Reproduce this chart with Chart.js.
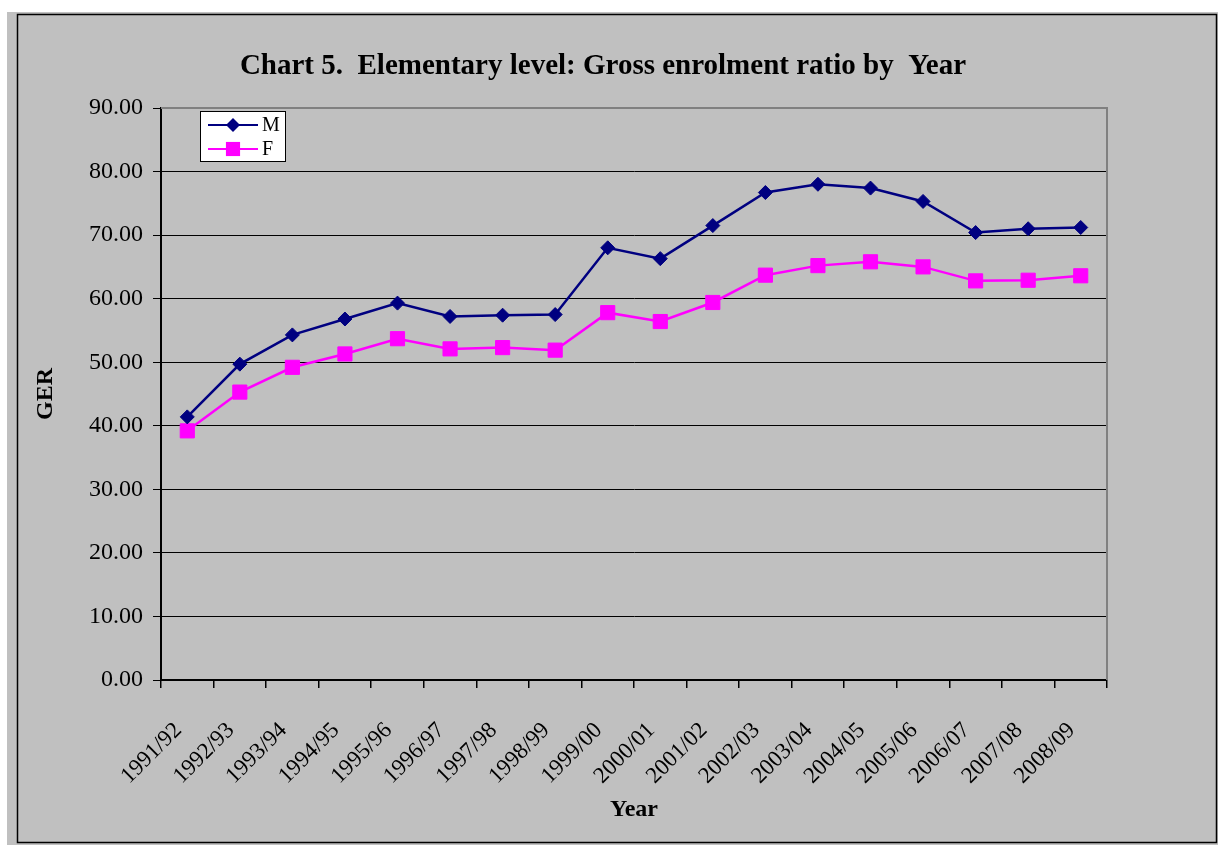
<!DOCTYPE html>
<html>
<head>
<meta charset="utf-8">
<title>Chart 5. Elementary level: Gross enrolment ratio by Year</title>
<script src="https://cdn.jsdelivr.net/npm/chart.js@4.4.0/dist/chart.umd.min.js"></script>
<style>
  html, body { margin: 0; padding: 0; background: #ffffff; }
  canvas { display: block; }
</style>
</head>
<body>
<canvas id="gerChart" width="1218" height="845"></canvas>
<script>
// Data
const years = ['1991/92', '1992/93', '1993/94', '1994/95', '1995/96', '1996/97', '1997/98', '1998/99', '1999/00',
  '2000/01', '2001/02', '2002/03', '2003/04', '2004/05', '2005/06', '2006/07', '2007/08', '2008/09'];
const gerMale = [41.4, 49.7, 54.3, 56.8, 59.3, 57.2, 57.4, 57.5, 68.0, 66.3, 71.5, 76.7, 78.0, 77.4, 75.3, 70.4, 71.0, 71.2];
const gerFemale = [39.2, 45.3, 49.2, 51.3, 53.7, 52.1, 52.3, 51.9, 57.8, 56.4, 59.4, 63.7, 65.2, 65.8, 65.0, 62.8, 62.9, 63.6];
const yTicks = { min: 0, max: 90, step: 10 };

const serif = '"Liberation Serif", "Times New Roman", serif';
const navy = '#000080';
const magenta = '#ff00ff';

// Fundo cinza com moldura, título e borda cinza da área do gráfico
const frame = {
  id: 'frame',
  beforeDraw(chart) {
    const { ctx } = chart;
    ctx.save();
    ctx.fillStyle = '#ffffff';
    ctx.fillRect(0, 0, chart.width, chart.height);
    ctx.fillStyle = '#c0c0c0';
    ctx.fillRect(7, 12, chart.width - 7, chart.height - 12);
    ctx.strokeStyle = '#000000';
    ctx.lineWidth = 1.5;
    ctx.strokeRect(17.5, 14.5, chart.width - 19, chart.height - 17);

    ctx.fillStyle = '#000000';
    ctx.font = 'bold 29px ' + serif;
    ctx.textAlign = 'center';
    ctx.textBaseline = 'middle';
    ctx.fillText('Chart 5.  Elementary level: Gross enrolment ratio by  Year', 603, 67);
    ctx.restore();
  },
  beforeDatasetsDraw(chart) {
    const { ctx, chartArea: a } = chart;
    ctx.save();
    ctx.strokeStyle = '#808080';
    ctx.lineWidth = 2;
    ctx.beginPath();
    ctx.moveTo(a.left, a.top);
    ctx.lineTo(a.right, a.top);
    ctx.lineTo(a.right, a.bottom);
    ctx.stroke();
    ctx.restore();
  }
};

// Legenda em caixa branca, dentro da área do gráfico
const boxLegend = {
  id: 'boxLegend',
  afterDatasetsDraw(chart) {
    const { ctx, chartArea: a } = chart;
    const x = a.left + 39, y = a.top + 3;
    ctx.save();
    ctx.fillStyle = '#ffffff';
    ctx.fillRect(x, y, 85, 50);
    ctx.strokeStyle = '#000000';
    ctx.lineWidth = 1;
    ctx.strokeRect(x + 0.5, y + 0.5, 85, 50);

    chart.data.datasets.forEach((ds, i) => {
      const cy = y + 14 + i * 24;
      const mx = x + 33;
      ctx.strokeStyle = ds.borderColor;
      ctx.lineWidth = 2;
      ctx.beginPath();
      ctx.moveTo(x + 8, cy);
      ctx.lineTo(x + 58, cy);
      ctx.stroke();

      ctx.fillStyle = ds.pointBackgroundColor;
      ctx.beginPath();
      if (ds.pointStyle === 'rectRot') {
        const r = ds.pointRadius;
        ctx.moveTo(mx, cy - r);
        ctx.lineTo(mx + r, cy);
        ctx.lineTo(mx, cy + r);
        ctx.lineTo(mx - r, cy);
        ctx.closePath();
      } else {
        const h = ds.pointRadius * Math.SQRT1_2;
        ctx.rect(mx - h, cy - h, 2 * h, 2 * h);
      }
      ctx.fill();

      ctx.fillStyle = '#000000';
      ctx.font = '20px ' + serif;
      ctx.textAlign = 'left';
      ctx.textBaseline = 'middle';
      ctx.fillText(ds.label, x + 62, cy + 1);
    });
    ctx.restore();
  }
};

new Chart(document.getElementById('gerChart').getContext('2d'), {
  type: 'line',
  data: {
    labels: years,
    datasets: [
      {
        label: 'M', data: gerMale, borderColor: navy, borderWidth: 2.5,
        pointStyle: 'rectRot', pointRadius: 7, pointBackgroundColor: navy, pointBorderColor: navy,
        pointBorderWidth: 1, tension: 0
      },
      {
        label: 'F', data: gerFemale, borderColor: magenta, borderWidth: 2.5,
        pointStyle: 'rect', pointRadius: 10, pointBackgroundColor: magenta, pointBorderColor: magenta,
        pointBorderWidth: 1, tension: 0
      }
    ]
  },
  options: {
    responsive: false,
    animation: false,
    devicePixelRatio: 1,
    layout: { padding: { left: 17, top: 108, right: 111, bottom: 10 } },
    plugins: {
      legend: { display: false },
      title: { display: false },
      tooltip: { enabled: false }
    },
    scales: {
      x: {
        type: 'category',
        offset: true,
        afterFit: (scale) => { scale.height = 155; },
        grid: { offset: true, drawOnChartArea: false, drawTicks: true, tickLength: 8, tickColor: '#000000', lineWidth: 1.5 },
        border: { color: '#000000', width: 2 },
        ticks: { color: '#000000', font: { family: serif, size: 23 }, minRotation: 45, maxRotation: 45, autoSkip: false, padding: 29, labelOffset: -9 },
        title: { display: true, text: 'Year', color: '#000000', font: { family: serif, size: 24, weight: 'bold' }, padding: { top: 0, bottom: 11 } }
      },
      y: {
        min: yTicks.min,
        max: yTicks.max,
        afterFit: (scale) => { scale.width = 144; },
        grid: {
          color: (c) => (c.tick && c.tick.value === yTicks.max ? 'rgba(0,0,0,0)' : '#000000'),
          lineWidth: 1, drawTicks: true, tickLength: 8, tickColor: '#000000'
        },
        border: { color: '#000000', width: 2 },
        ticks: {
          stepSize: yTicks.step, color: '#000000', padding: 10,
          font: { family: serif, size: 24 },
          callback: (value) => Number(value).toFixed(2)
        },
        title: { display: true, text: 'GER', color: '#000000', font: { family: serif, size: 24, weight: 'bold' }, padding: { top: 14, bottom: 0 } }
      }
    }
  },
  plugins: [frame, boxLegend]
});
</script>
</body>
</html>
